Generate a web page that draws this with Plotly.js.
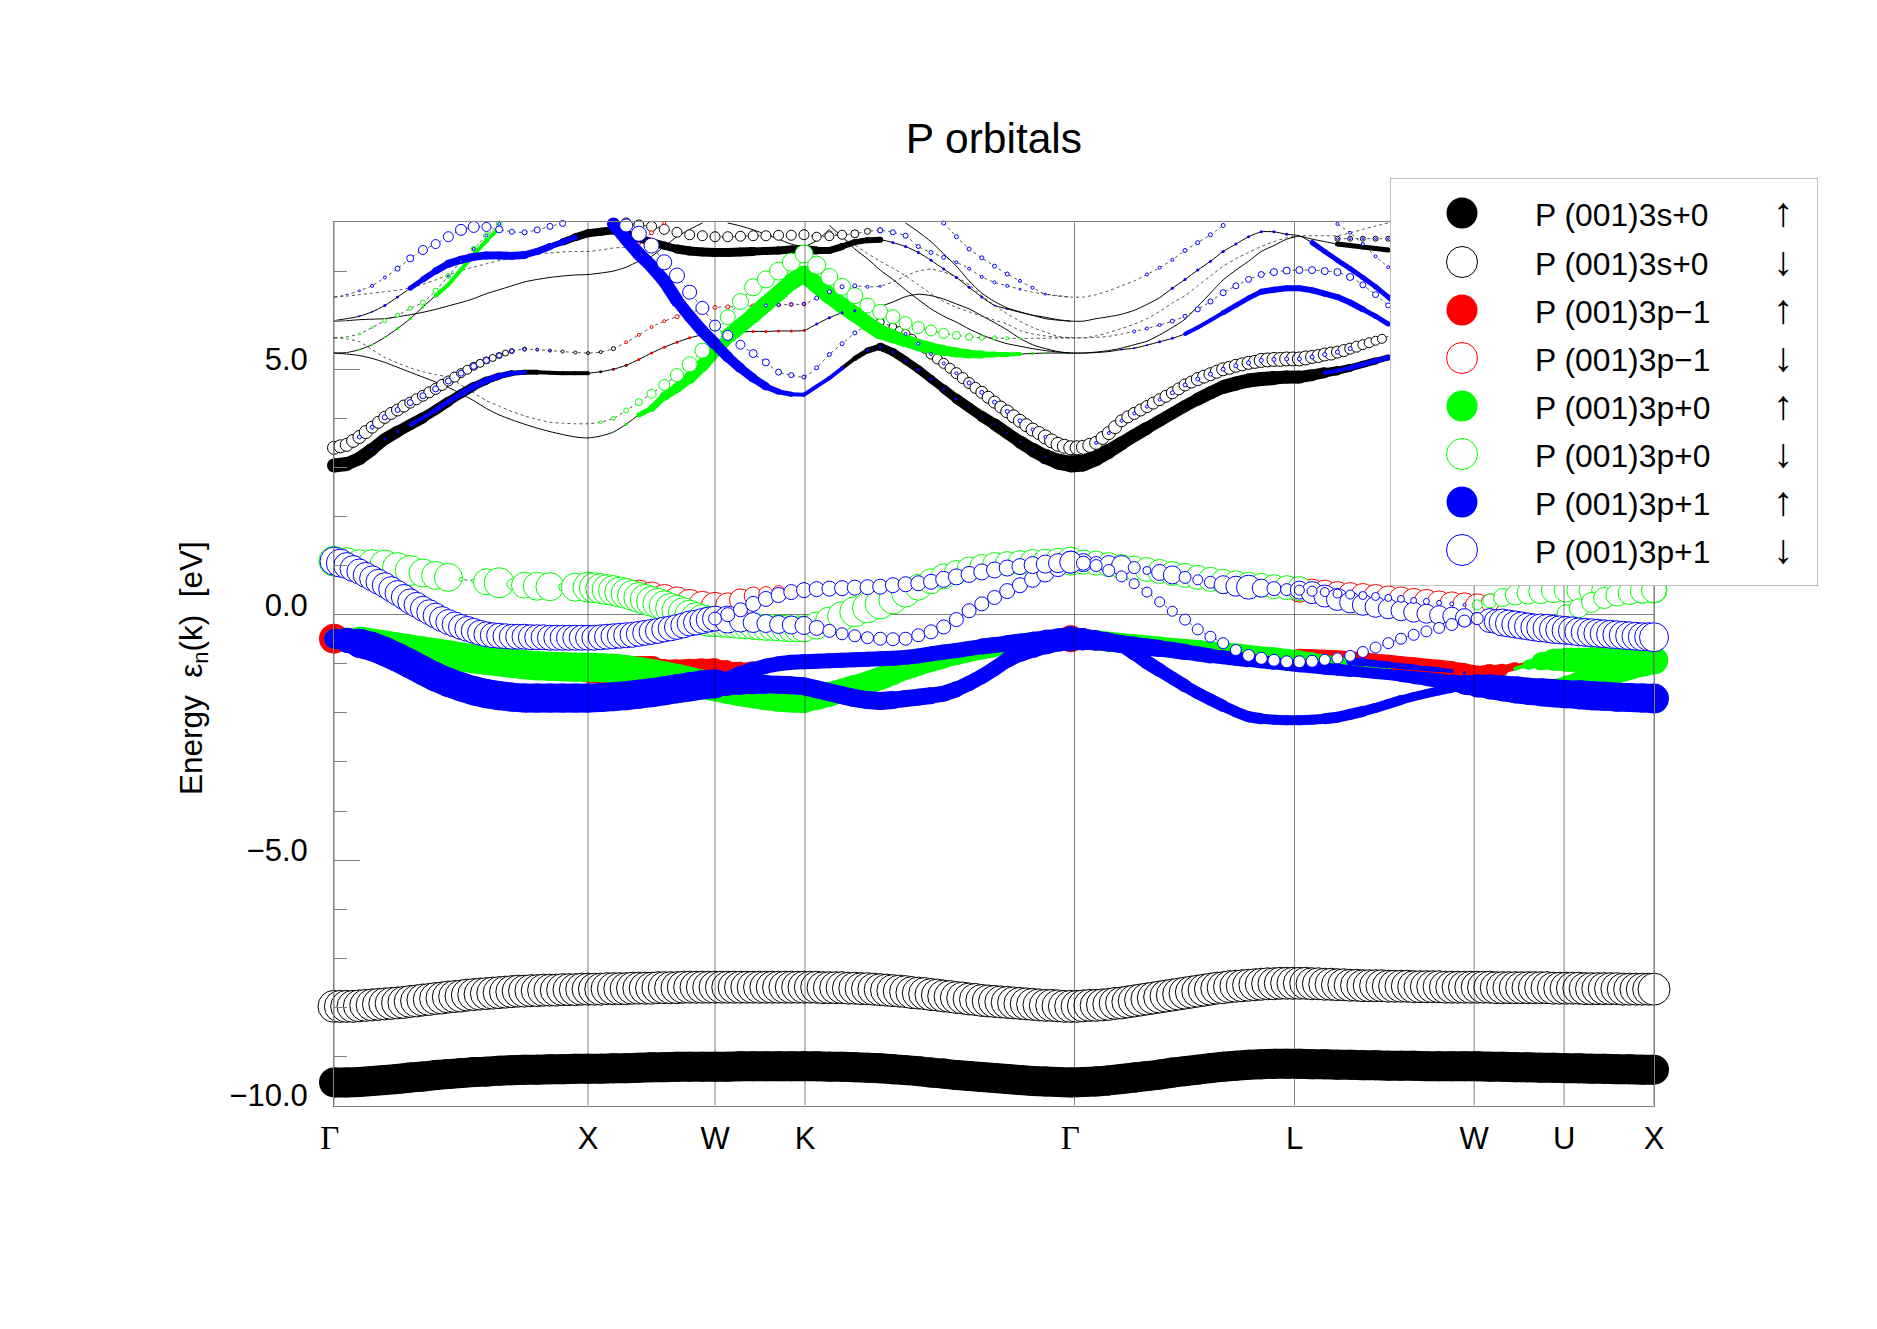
<!DOCTYPE html>
<html><head><meta charset="utf-8">
<script src="https://cdn.plot.ly/plotly-3.0.1.min.js"></script>
<style>html,body{margin:0;padding:0;background:#fff}</style></head><body><div id="chart"></div>
<script>
function seg(){var o=new Array(105).fill(null);for(var a=0;a<arguments.length;a+=2){var s=arguments[a],v=arguments[a+1];for(var i=0;i<v.length;i++)o[s+i]=v[i];}return o;}
function rep(n,v){return new Array(n).fill(v);}

const kGrid=[0,.05,.1,.15,.2,.25,.3,.35,.4,.45,.5,.55,.6,.65,.7,.75,.8,.85,.9,.95,1,1.05,1.1,1.15,1.2,1.25,1.3,1.35,1.4,1.45,1.5,1.55,1.6,1.65,1.7,1.75,1.8,1.85,1.9,1.95,2,2.05,2.1,2.15,2.2,2.25,2.3,2.35,2.4,2.45,2.5,2.55,2.6,2.65,2.7,2.75,2.8,2.85,2.9,2.95,3,3.05,3.1,3.15,3.2,3.25,3.3,3.35,3.4,3.45,3.5,3.55,3.6,3.65,3.7,3.75,3.8,3.85,3.9,3.95,4,4.05,4.1,4.15,4.2,4.25,4.3,4.35,4.4,4.45,4.5,4.55,4.6,4.65,4.7,4.75,4.8,4.85,4.9,4.95,5,5.05,5.1,5.15,5.196];
const kTicks=[0,1,1.5,1.854,2.915,3.781,4.488,4.842,5.196];
const kLabels=['Γ','X','W','K','Γ','L','W','U','X'];
const yRange=[-10,8];

// spin-up bands (eV)
const upS=[-9.53,-9.53,-9.52,-9.50,-9.48,-9.46,-9.43,-9.41,-9.38,-9.36,-9.34,-9.32,-9.31,-9.29,-9.28,-9.27,-9.27,-9.26,-9.26,-9.25,-9.25,-9.25,-9.24,-9.24,-9.23,-9.22,-9.22,-9.21,-9.21,-9.21,-9.21,-9.21,-9.2,-9.2,-9.2,-9.2,-9.2,-9.2,-9.2,-9.21,-9.21,-9.22,-9.23,-9.24,-9.26,-9.28,-9.3,-9.33,-9.35,-9.38,-9.4,-9.42,-9.44,-9.46,-9.48,-9.5,-9.51,-9.52,-9.53,-9.52,-9.51,-9.49,-9.46,-9.43,-9.4,-9.37,-9.33,-9.3,-9.27,-9.24,-9.21,-9.19,-9.17,-9.16,-9.15,-9.15,-9.15,-9.16,-9.16,-9.17,-9.17,-9.18,-9.18,-9.19,-9.19,-9.19,-9.2,-9.2,-9.2,-9.2,-9.2,-9.21,-9.21,-9.22,-9.22,-9.23,-9.23,-9.24,-9.24,-9.25,-9.25,-9.26,-9.26,-9.27,-9.27];
const upA=[-.49,-.52,-.58,-.65,-.75,-.87,-1,-1.14,-1.27,-1.38,-1.47,-1.55,-1.61,-1.65,-1.68,-1.7,-1.7,-1.7,-1.7,-1.7,-1.7,-1.69,-1.67,-1.65,-1.62,-1.59,-1.55,-1.51,-1.47,-1.43,-1.41,-1.41,-1.41,-1.42,-1.42,-1.43,-1.44,-1.46,-1.52,-1.58,-1.64,-1.7,-1.74,-1.76,-1.74,-1.71,-1.68,-1.65,-1.61,-1.52,-1.4,-1.26,-1.1,-.92,-.79,-.7,-.61,-.53,-.49,-.5,-.53,-.56,-.6,-.63,-.66,-.69,-.72,-.76,-.8,-.84,-.87,-.9,-.93,-.96,-.99,-1.02,-1.05,-1.07,-1.1,-1.12,-1.15,-1.17,-1.2,-1.22,-1.25,-1.28,-1.31,-1.35,-1.39,-1.43,-1.45,-1.47,-1.5,-1.53,-1.56,-1.58,-1.6,-1.62,-1.63,-1.65,-1.66,-1.68,-1.69,-1.7,-1.71];
const upB=seg(30,[-1.41,-1.33,-1.22,-1.12,-1.05,-1,-.97,-.96,-.95,-.94,-.93,-.92,-.91,-.9,-.89,-.87,-.84,-.8,-.76,-.73,-.69,-.65,-.62,-.59,-.56,-.53,-.51,-.5,-.49,-.5,-.52,-.55,-.6,-.78,-.97,-1.13,-1.29,-1.45,-1.6,-1.73,-1.86,-1.98,-2.08,-2.12,-2.14,-2.15,-2.15,-2.14,-2.12,-2.09,-2.03,-1.97,-1.9,-1.82,-1.74,-1.67,-1.61,-1.55,-1.5,-1.45,-1.41]);
const upC=[-.49,-.51,-.54,-.58,-.62,-.66,-.7,-.74,-.78,-.82,-.86,-.9,-.93,-.96,-.99,-1.02,-1.04,-1.05,-1.06,-1.07,-1.07,-1.08,-1.09,-1.12,-1.16,-1.2,-1.25,-1.3,-1.36,-1.42,-1.47,-1.52,-1.57,-1.61,-1.65,-1.68,-1.7,-1.71,-1.68,-1.62,-1.55,-1.47,-1.39,-1.3,-1.2,-1.1,-1.02,-.95,-.88,-.82,-.76,-.71,-.66,-.62,-.58,-.55,-.52,-.5,-.49,-.5,-.52,-.55,-.58,-.6,-.63,-.65,-.68,-.7,-.72,-.75,-.77,-.79,-.82,-.85,-.87,-.9,-.93,-.95,-.97,-.99,-1.01,-1.03,-1.05,-1.07,-1.08,-1.09,-1.1,-1.11,-1.12,-1.14,-1.15,-1.14,-1.12,-1.1,-1.02,-.95,-.92,-.92,-.92,-.92,-.92,-.92,-.93,-.93,-.93];
const upD=seg(96,[-1.5,-1.45,-1.38,-1.32,-1.22,-1.14,-1.06,-.99,-.93]);
const upR=seg(0,[-.49],20,[-1.1,-1.12,-1.14,-1.15,-1.15,-1.15,-1.15,-1.13,-1.1,-1.07,-1.05,-1.05,-1.04,-1],58,[-.49],76,[-.9,-.91,-.92,-.93,-.95,-.97,-1,-1.02,-1.05,-1.07,-1.1,-1.12,-1.15,-1.18,-1.22,-1.17,-1.12,-1.05,-1]);
const upCond=seg(0,[3.04,3.07,3.18,3.37,3.58,3.73,3.87,4.01,4.17,4.34,4.5,4.65,4.77,4.86,4.92,4.94,4.94,4.93,4.92,4.92,4.92,4.95,5,5.08,5.2,5.33,5.45,5.55,5.64,5.7,5.75,5.76,5.76,5.77,5.77,5.78,5.78,5.79,5.92,6.05,6.15,6.19,6.21,6.28,6.37,6.48,6.53,6.5,6.43,6.33,6.23,6.09,5.95,5.8,5.63,5.5,5.42,5.36,5.33,5.33,5.35,5.38,5.43,5.5,5.57,5.7,5.85,6.02,6.28,6.55,6.82,7.02,7.2,7.4,7.52,7.65,7.71,7.65,7.6,7.55,7.52,7.49,7.46,7.43]);
const upSteep=seg(22,[7.96,7.65,7.35,7.1,6.8,6.4,6.08,5.78,5.52,5.25,5.02,4.82,4.65,4.54,4.49,4.48,4.65,4.82,5.02,5.22,5.38,5.46,5.35,5.18,5,4.8,4.6,4.4,4.22,4.04,3.88,3.7,3.52,3.36,3.22,3.12,3.07,3.09,3.19,3.33,3.49,3.65,3.8,3.95,4.1,4.25,4.39,4.52,4.64,4.71,4.77,4.8,4.82,4.84,4.84,4.88,4.93,4.97,5.03,5.1,5.17,5.24]);
const upG=seg(0,[5.33,5.31,5.28,5.22,5.14,5.04,4.94,4.84,4.74,4.63,4.5,4.36,4.2,4.07,3.97,3.88,3.8,3.73,3.67,3.62,3.6,3.64,3.72,3.88,4.07,4.2,4.45,4.62,4.82,5.08,5.38,5.67,5.88,6.1,6.33,6.55,6.78,6.94,6.72,6.5,6.3,6.12,5.93,5.76,5.67,5.58,5.49,5.43,5.38,5.34,5.31,5.3,5.3,5.3,5.31,5.32,5.33,5.33,5.33,5.33,5.34,5.36,5.4,5.43,5.49,5.56,5.63,5.72,5.85,6,6.15,6.3,6.45,6.58,6.62,6.65,6.65,6.61,6.54,6.47,6.36,6.22,6.08,5.92]);
const upK=[5.99,6.03,6.08,6.17,6.3,6.47,6.65,6.83,7,7.15,7.23,7.29,7.32,7.32,7.31,7.33,7.4,7.5,7.59,7.69,7.77,7.8,7.83,7.76,7.67,7.59,7.52,7.45,7.41,7.39,7.38,7.38,7.39,7.4,7.41,7.42,7.44,7.45,7.42,7.42,7.5,7.59,7.63,7.64,7.58,7.5,7.38,7.22,7.04,6.87,6.67,6.47,6.3,6.23,6.16,6.1,6.06,6.01,5.98,5.98,6.03,6.07,6.12,6.2,6.32,6.46,6.65,6.83,7.02,7.2,7.4,7.55,7.7,7.8,7.8,7.75,7.72,7.58,7.4,7.22,7.05,6.87,6.68,6.47,6.25];
const upT2=seg(0,[5.33,5.34,5.4,5.5,5.65,5.83,6.03,6.27,6.5,6.72,7.03,7.33,7.62,7.88],39,[7.93,7.7,7.45,7.25,7.02,6.83,6.62,6.42,6.23,6.08,5.96,5.82,5.7,5.6,5.52,5.47,5.42,5.38,5.35,5.33]);
const upT1=seg(0,[5.98,5.99,6.01,6.02,6.03,6.07,6.11,6.16,6.22,6.29,6.36,6.44,6.54,6.62,6.7,6.78,6.83,6.87,6.9,6.92,6.93,6.96,7,7.08,7.2,7.3,7.5,7.7,7.85,7.98],31,[7.98,7.92,7.84,7.75,7.65,7.55,7.5,7.62,7.85],45,[7.98,7.8,7.6,7.35,7.1,6.8,6.55,6.38,6.25,6.17,6.1,6.03,6,5.98]);

// spin-down bands (eV)
const dnS=[-7.98,-7.98,-7.97,-7.95,-7.93,-7.91,-7.88,-7.85,-7.82,-7.79,-7.77,-7.74,-7.72,-7.7,-7.68,-7.67,-7.66,-7.65,-7.64,-7.64,-7.63,-7.63,-7.62,-7.62,-7.61,-7.61,-7.6,-7.6,-7.59,-7.59,-7.59,-7.59,-7.59,-7.59,-7.59,-7.59,-7.59,-7.59,-7.59,-7.6,-7.6,-7.61,-7.62,-7.64,-7.66,-7.68,-7.71,-7.74,-7.77,-7.8,-7.83,-7.86,-7.88,-7.9,-7.92,-7.94,-7.96,-7.97,-7.98,-7.97,-7.96,-7.94,-7.91,-7.87,-7.83,-7.79,-7.75,-7.71,-7.67,-7.63,-7.6,-7.57,-7.55,-7.53,-7.52,-7.51,-7.51,-7.52,-7.53,-7.54,-7.55,-7.56,-7.56,-7.57,-7.57,-7.58,-7.58,-7.58,-7.59,-7.59,-7.59,-7.59,-7.6,-7.6,-7.6,-7.6,-7.61,-7.61,-7.61,-7.62,-7.62,-7.62,-7.63,-7.63,-7.63];
const dnA=[1.09,1,.88,.74,.6,.44,.27,.12,-.02,-.15,-.25,-.33,-.4,-.43,-.45,-.45,-.46,-.47,-.47,-.47,-.47,-.46,-.44,-.42,-.39,-.35,-.3,-.25,-.18,-.13,-.08,-.1,-.13,-.16,-.18,-.2,-.21,-.22,-.27,-.33,-.39,-.43,-.47,-.49,-.5,-.49,-.42,-.35,-.25,-.1,.08,.22,.35,.48,.6,.72,.84,.96,1.07,1.06,1.04,1.02,1,.96,.9,.86,.81,.76,.71,.66,.61,.58,.56,.54,.53,.51,.5,.45,.38,.31,.25,.2,.16,.12,.08,.05,.02,-.01,-.03,-.06,-.08,-.12,-.16,-.2,-.24,-.27,-.3,-.32,-.35,-.37,-.39,-.41,-.43,-.45,-.46];
const dnB=seg(30,[-.08,0,.1,.22,.32,.4,.46,.5,.52,.53,.54,.55,.56,.57,.6,.62,.64,.67,.72,.77,.82,.87,.91,.95,.98,1.01,1.03,1.05,1.07,1.05,1,.9,.78,.63,.46,.26,.07,-.1,-.3,-.45,-.58,-.72,-.83,-.89,-.93,-.96,-.96,-.95,-.92,-.89,-.84,-.76,-.67,-.58,-.49,-.41,-.34,-.27,-.2,-.13,-.08]);
const dnC=seg(0,[1.09,1.08,1.06,1.04,1.01,.96,.9,.85,.8,.76,.72,.69,.67,.65,.62,.6,.58,.57,.56,.56,.56,.53,.49,.43,.35,.27,.18,.09,-.01,-.1,-.18,-.2,-.22,-.24,-.26,-.27,-.29,-.29,-.22,-.13,-.03,.06,.14,.22,.3,.44,.56,.68,.78,.86,.93,.98,1.02,1.04,1.06,1.07,1.08,1.09,1.09,1.07,1.05,1.02,.98,.95,.92,.88,.84,.8,.76,.72,.68,.65,.62,.6,.57,.55,.53],90,[.2,.28,.35,.4,.44,.47,.49,.5,.5,.5,.5,.5,.5,.5,.5]);
const dnD=seg(97,[.02,.13,.25,.34,.4,.44,.48,.5]);
const dnR=seg(21,[.52,.48,.45,.42,.38,.33,.28,.23,.19,.17,.2,.3,.38,.43,.47,.49,.5],76,[.5,.48,.46,.43,.41,.39,.37,.34,.32,.29,.27,.24,.22,.2,.18,.24,.34,.44,.48]);
const dnCond=seg(0,[3.4,3.46,3.62,3.82,4.02,4.17,4.32,4.46,4.6,4.76,4.92,5.06,5.18,5.28,5.37,5.41,5.4,5.38,5.36,5.34,5.33,5.35,5.42,5.55,5.7,5.86,5.98,6.07,6.16,6.22,6.26,6.27,6.28,6.29,6.3,6.31,6.32,6.33,6.45,6.58,6.68,6.7,6.68,6.69,6.78,6.9,7,7.04,6.98,6.88,6.72,6.5,6.3,6.13,5.98,5.85,5.76,5.67,5.64,5.64,5.68,5.75,5.83,5.92,6.03,6.18,6.35,6.5,6.7,6.9,7.1,7.25,7.38,7.5,7.6,7.68,7.72,7.72,7.72,7.72,7.78,7.85,7.92,7.98]);
const dnSteep=seg(23,[7.93,7.76,7.52,7.18,6.91,6.57,6.25,5.89,5.69,5.5,5.32,5.14,4.94,4.88,4.84,5.03,5.3,5.52,5.74,5.9,5.96,5.86,5.72,5.52,5.31,5.12,4.92,4.72,4.53,4.33,4.14,3.95,3.77,3.62,3.47,3.4,3.41,3.5,3.7,3.95,4.1,4.24,4.38,4.52,4.68,4.8,4.9,5,5.07,5.13,5.18,5.2,5.21,5.21,5.25,5.3,5.35,5.42,5.5,5.58,5.67]);
const dnG=seg(0,[5.64,5.62,5.56,5.4,5.24,5.13,5.03,4.95,4.89,4.84,4.68,4.52,4.36,4.25,4.14,4.05,3.98,3.92,3.9,3.89,3.89,3.92,4,4.16,4.33,4.5,4.68,4.88,5.1,5.38,5.7,6.06,6.38,6.67,6.83,7,7.18,7.35,7.12,6.88,6.68,6.5,6.3,6.17,6.07,5.94,5.85,5.79,5.73,5.69,5.66,5.64,5.64,5.63,5.63,5.63,5.63,5.64,5.64,5.64,5.65,5.67,5.72,5.77,5.83,5.9,5.98,6.08,6.22,6.38,6.56,6.7,6.83,6.93,6.98,7.01,7.02,7.02,7,6.98,6.88,6.72,6.52,6.3]);
const dnL=seg(0,[5.64,5.66,5.72,5.85,5.99,6.1,6.24,6.36,6.6,6.9,7.2,7.45,7.72,7.96],39,[7.83,7.68,7.53,7.36,7.2,7.06,6.9,6.72,6.54,6.38,6.26,6.17,6.08,6,5.92,5.79,5.72,5.68,5.65,5.64],79,[7.66,7.66,7.66,7.66,7.66]);
const dnU=seg(0,[6.47,6.52,6.6,6.7,6.87,7.05,7.26,7.43,7.55,7.7,7.84,7.9,7.9,7.85,7.8,7.79,7.84,7.91,7.97],48,[7.98,7.7,7.45,7.27,7.1,6.94,6.8,6.66,6.53,6.49,6.47,6.47,6.52,6.6,6.7,6.8,6.93,7.07,7.23,7.42,7.58,7.74,7.93],79,[7.96,7.78,7.55,7.3,7.08]);
const dnT3=seg(0,[6.47,6.49,6.52,6.55,6.58,6.61,6.66,6.73,6.82,6.92,7.01,7.08,7.15,7.21,7.27,7.32,7.35,7.37,7.39,7.4,7.4,7.43,7.47,7.49,7.55,7.78,7.98]);
const dnTop=seg(23,[7.98,7.94,7.91,7.85,7.79,7.74,7.72,7.7,7.7,7.71,7.72,7.72,7.73,7.73,7.74,7.7,7.71,7.74,7.76,7.81,7.83,7.79,7.72,7.5,7.38,7.28,7.18,7.05,6.88,6.77,6.7,6.63,6.57,6.53,6.5,6.47]);

// extra readings taken half a step further along k, for the densely overlapping ring bands
const kHalfStep=0.025;
const dnSHalf=[-7.98,-7.98,-7.96,-7.94,-7.92,-7.9,-7.87,-7.84,-7.81,-7.78,-7.75,-7.73,-7.71,-7.69,-7.67,-7.66,-7.65,-7.65,-7.64,-7.63,-7.63,-7.62,-7.62,-7.61,-7.61,-7.6,-7.6,-7.59,-7.59,-7.59,-7.59,-7.59,-7.59,-7.59,-7.59,-7.59,-7.59,-7.59,-7.6,-7.6,-7.61,-7.62,-7.63,-7.65,-7.67,-7.7,-7.72,-7.75,-7.78,-7.81,-7.84,-7.87,-7.89,-7.91,-7.93,-7.95,-7.96,-7.98,-7.98,-7.96,-7.95,-7.92,-7.89,-7.85,-7.81,-7.77,-7.73,-7.69,-7.65,-7.61,-7.58,-7.56,-7.54,-7.52,-7.51,-7.51,-7.51,-7.52,-7.53,-7.54,-7.55,-7.56,-7.56,-7.57,-7.57,-7.58,-7.58,-7.59,-7.59,-7.59,-7.59,-7.6,-7.6,-7.6,-7.6,-7.6,-7.61,-7.61,-7.62,-7.62,-7.62,-7.63,-7.63,-7.63];
const dnAHalf=seg(0,[1.05,.94,.81,.67,.52,.36,.2,.05,-.09,-.2,-.29,-.37,-.42,-.44,-.45,-.46,-.46,-.47,-.47,-.47,-.47,-.45,-.43,-.41,-.37,-.33,-.28,-.22,-.16,-.1],91,[-.14,-.18,-.22,-.26,-.28,-.31,-.33,-.36,-.38,-.4,-.42,-.44,-.45]);
const dnCHalf=seg(20,[.55,.51,.46,.39,.31,.23,.13,.04,-.06,-.14,-.19,-.21,-.23,-.25,-.26,-.28,-.29]);
const dnCondHalf=seg(0,[3.43,3.54,3.72,3.92,4.1,4.25,4.39,4.53,4.68,4.84,4.99,5.12,5.23,5.33]);
const dnSteepHalf=seg(44,[5.79,5.62,5.42,5.21,5.02,4.82,4.62,4.43,4.23,4.04,3.86,3.7,3.54,3.43,3.4,3.45,3.6,3.82,4.03,4.17,4.31,4.45,4.6,4.74,4.85,4.95,5.03,5.1,5.15,5.19,5.2,5.21,5.23,5.27,5.32,5.38,5.46,5.54,5.62]);

// marker diameters, per band and orbital
const szUpA=[20,25].concat(rep(29,29),[24,22,20,19,18,18,18,18,18,18,18,18,18,18,17,17,17,16,16,15,15,15,16,17,18,20,22,24,22,20,19,18,18,17,17,16,16,15,15,14,14,14,13,13,12,12,12,12,12,12,11,11,11,12,13,14,15,17,20,23,25,26,27,27,28,28,28,29,29,29,29,29,29,30]);
const szUpB=seg(30,[20,18,17,16,15,15,15,15,15,15,15,15,15,15,15,15,15,15,15,15,15,16,16,17,17,18,20,22,25,22,20,18,16,15,14,14,13,13,12,12,12,11,11,11,10,10,10,10,11,11,11,11,10,10,10,9,9,9,9,8,8]);
const szUpC=[20,24].concat(rep(36,29),[26,25,24,24,23,23,23,22,22,21,21,20,20,20,20,19,19,19,18,18,18],rep(18,20),[18,16,14,12,10,8,6],rep(9,0),[4,10,18,22,24,24,25,25,26,26,27,28]);
const szUpD=seg(96,[18,20,22,24,25,26,26,27,28]);
const szUpRed=seg(0,[30],20,[28,28,30,30,30,30,24,22,20,18,16,12,8,5],58,[27],76,[20,20,20,20,20,20,20,20,20,20,20,20,20,19,18,16,12,8,4]);
const szUpRedBlue=seg(80,[8,8,7,7,6,6,5,5,4,3]);
const szCondBlack=seg(0,[14,14,13,13,12,12,11,11,10,10,9,9,8,7,6,5,5,4,4,4,4,3,3,3],79,[5,5,5,5,5]);
const szCondRed=seg(22,[2,2,3,3,3,3,3,3,3,3,4,3,3,3,3,3]);
const szCondBlue=seg(3,[2,3,3,4,4,5,5,6,6,6,6,5,4],38,[3,3,3,3]);
const szSteepBlue=seg(22,[13,13,13,13,13,13,12,12,12,11,10,9,8,6,5,4,4,4,4],42,[3,3,3,3,3,3,3,3,2,2,2,2,2,2,2],78,[4,4,5,5,5,5]);
const szSteepBlack=seg(40,[4,5,6,8,8,8,8,8,9,10,10,11,12,12,13,14,15,16,17,17,16,15,14,13,13,12,12,12,13,13,14,14,14,14,14,13,13,12,11,9,8,7,7,6]);
const szGGreen=seg(22,[2,3,5,7,9,10,12,13,14,15,15,16,16,16,17,17,17,17,16,16,15,15,14,13,12,12,11,10,9,8,6,5,4,3,2,1,1]);
const szGBlue=seg(62,[2,2,2,3,3,4,4,4,5,5,5,6,6,6,6,6,6,6,6,6,5,5]);
const szKBlue=seg(2,[2,2,3,3,5,6,7,8,8,8,8,8,8,8,7,7,6,5],44,[3,3,3,3,3,3,3,3,2,2],66,[3,3,3,3,3,3,3,3,3,3],77,[5,5,5,5,5,5,5,5]);
const szKBlack=seg(18,[7,8,8,8,8,8,8,8,8,9,9,9,9,9,9,9,8,8,8,8,8,7,7,6,6,6]);
const szT2Green=seg(1,[1,2,2,2,3,3,3,4,4,4,4,5,4]);
const szDnA=[28,26].concat(rep(29,25),[27,22,20,18,18,18,18,15,13,12,12,12,13,13,13,13,14,14,14,14,14,14,15,15,16,17,18,22,18,14,18,20,12,8,16,18,12,10,12,18,20,24,18,14,12,18,22,22,22,21,21,21,20,20,20,19,19,18,18,12,24,27,27,27,28,28,28,28,28,28,28,28,28,29,30]).slice(0,105);
const szDnB=seg(30,[13,14,14,15,15,15,15,15,15,15,15,15,15,15,15,15,15,15,16,16,16,16,16,16,16,17,18,19,22,14,12,12,11,10,10,10,10,11,11,11,11,11,12,12,12,12,12,12,11,11,11,11,11,11,11,11,11,11,12,12,12]);
const szDnC=seg(0,[30,28,26,28,30,30,30,28,28,28,4,4,26,30,10,26,28,28,8,28,30,30,30,30,30,30,30,30,30,30,26,26,26,26,26,26,26,26,27,28,29,30,30,30,28,28,26,25,25,24,24,24,24,24,24,25,25,26,28,24,24,24,24,24,24,24,24,24,24,24,24,24,24,24,24,24,24],90,[10,14,18,20,22,24,24,24,24,25,25,26,26,26,26]);
const szDnD=seg(97,[18,19,20,21,22,23,24,25]);
const szDnRed=seg(21,[28,28,28,28,28,28,28,28,28,28,24,22,18,14,12,8,6],76,[24,24,24,24,24,24,24,24,24,24,24,24,24,24,24,18,12,8,5]);
const szDnRedBlue=seg(76,[10,10,9,9,9,8,8,7,7,6,6,5,4,3]);
const szCondDnBlack=seg(0,[13,13,13,12,12,12,11,11,11,10,9,8,7,6,5,4,3,3,3,3,3,3,4]);
const szCondDnBlue=seg(2,[4,4,5,5,6,6,6,6,6,6,6,5,4,3,2,2],34,[3,3,3,3,4,4,4,4,3,2]);
const szCondDnRed=seg(23,[3,3,3,3,4,4,4,4,4,4,4,4,4,4,4]);
const szSteepDnBlue=seg(23,[13,15,15,15,15,14,13,11,10,9,8,7,6,5,4,4,4,4,4],45,[3,3,3,3,3,4,4,4,4,4,3,3],60,[3,3,3,3,3,3,4,4,4,4,4,4,4,4,4,4,4,4,4,4,4]);
const szSteepDnBlack=seg(42,[8,8,8,9,9,10,10,11,11,12,12,13,13,13,14,14,14,14,13,13,12,12,12,12,12,12,13,13,13,13,13,14,14,14,14,13,13,12,11,10,9]);
const szGDnGreen=seg(21,[3,4,5,7,9,11,13,15,15,14,15,16,17,17,18,18,18,18,17,17,16,15,15,14,13,12,11,10,8,7,5,4,3,2]);
const szGDnBlue=seg(63,[3,3,3,4,4,5,5,6,6,6,6,7,7,7,7,7,7,7,6,6,5]);
const szLGreen=seg(1,[1,2,2,4,4,4,5,5,5,5,5,6,6]);
const szLBlue=seg(9,[2,2,3,3,3],79,[2,2,2,2,2]);
const szLBlack=seg(79,[5,5,5,5,5]);
const szUBlue=seg(1,[1,2,3,3,5,7,9,9,10,11,11,9,7,5,5,6,6,6],48,[4,4,4,4,4,4,3,3,2],64,[3,3,3,4,4,4,4],79,[3,3,3,3,3]);
const szT3Red=seg(24,[3,4,3]);
const szTopBlack=seg(23,rep(15,10).concat([9,9,9,8,6,5]));
const szTopBlue=seg(43,[5,5,5,4,4,4,3,3,3,3,3,2]);

const legendNames=['P (001)3s+0','P (001)3s+0','P (001)3p−1','P (001)3p−1','P (001)3p+0','P (001)3p+0','P (001)3p+1','P (001)3p+1'];
const legendArrows=['↑','↓','↑','↓','↑','↓','↑','↓'];
const legendRows=[35,84,132,180,228,276,324,372];
const colors=['#000000','#000000','#ff0000','#ff0000','#00ff00','#00ff00','#0000ff','#0000ff'];
const ringColors=['#000000','#000000','#ff0000','#ff0000','#00ff00','#00ff00','#0000ff','#0000ff'];

const lineBands=[[upS,0],[upA,0],[upB,0],[upC,0],[upCond,0],[upSteep,0],[upG,0],[upK,0],[upT2,0],[upT1,0],[dnS,1],[dnA,1],[dnB,1],[dnC,1],[dnCond,1],[dnSteep,1],[dnG,1],[dnL,1],[dnU,1],[dnT3,1],[dnTop,1]];
// [band, size, legend index, optional half-step readings] drawn in orbital order
const markerLayers=[
 [upS,30,0],[upCond,szCondBlack,0],[upSteep,szSteepBlack,0],[upK,szKBlack,0],
 [dnS,32,1,dnSHalf],[dnCond,szCondDnBlack,1,dnCondHalf],[dnSteep,szSteepDnBlack,1,dnSteepHalf],[dnTop,szTopBlack,1],[dnL,szLBlack,1],
 [upR,szUpRed,2],[upCond,szCondRed,2],
 [dnR,szDnRed,3],[dnCond,szCondDnRed,3],[dnT3,szT3Red,3],
 [upC,szUpC,4],[upD,szUpD,4],[upG,szGGreen,4],[upT2,szT2Green,4],
 [dnC,szDnC,5,dnCHalf],[dnD,szDnD,5],[dnG,szGDnGreen,5],[dnL,szLGreen,5],
 [upA,szUpA,6],[upB,szUpB,6],[upR,szUpRedBlue,6],[upCond,szCondBlue,6],[upSteep,szSteepBlue,6],[upG,szGBlue,6],[upK,szKBlue,6],
 [dnA,szDnA,7,dnAHalf],[dnB,szDnB,7],[dnR,szDnRedBlue,7],[dnCond,szCondDnBlue,7],[dnSteep,szSteepDnBlue,7],[dnG,szGDnBlue,7],[dnL,szLBlue,7],[dnU,szUBlue,7],[dnTop,szTopBlue,7]
];

var traces=[];
lineBands.forEach(function(b){
  traces.push({type:'scatter',mode:'lines',x:kGrid,y:b[0],hoverinfo:'skip',cliponaxis:false,showlegend:false,
    line:b[1]?{color:'rgba(40,40,40,0.8)',width:1,dash:'3px,3px',shape:'spline',smoothing:0.6}:{color:'#000',width:1,shape:'spline',smoothing:0.6}});
});
function sizeAt(m,i){return Array.isArray(m[1])?m[1][i]:m[1];}
markerLayers.forEach(function(m){
  var open=m[2]%2===1, pts=[];
  kGrid.forEach(function(k,i){
    var sz=sizeAt(m,i);
    if(m[0][i]!==null&&m[0][i]!==undefined&&sz)pts.push([k,m[0][i],sz]);
    if(m[3]&&m[3][i]!==null&&m[3][i]!==undefined&&sz)pts.push([k+kHalfStep,m[3][i],sz]);
  });
  if(!open){
    // solid ribbons: join neighbouring filled points with a stroke as wide as the smaller dot
    var byW={};
    for(var i=0;i<kGrid.length-1;i++){
      var a=m[0][i],b=m[0][i+1],sa=sizeAt(m,i),sb=sizeAt(m,i+1);
      if(a===null||b===null||a===undefined||b===undefined||!sa||!sb)continue;
      var w=Math.round(Math.min(sa,sb));
      if(w<4)continue;
      if(!byW[w])byW[w]={x:[],y:[]};
      byW[w].x.push(kGrid[i],kGrid[i+1],null);byW[w].y.push(a,b,null);
    }
    Object.keys(byW).forEach(function(w){
      traces.push({type:'scatter',mode:'lines',x:byW[w].x,y:byW[w].y,hoverinfo:'skip',cliponaxis:false,showlegend:false,
        line:{color:colors[m[2]],width:+w}});
    });
  }
  traces.push({type:'scatter',mode:'markers',x:pts.map(function(p){return p[0];}),y:pts.map(function(p){return p[1];}),name:legendNames[m[2]],hoverinfo:'skip',cliponaxis:false,showlegend:false,
    marker:{size:pts.map(function(p){return p[2];}),opacity:1,color:open?'#ffffff':colors[m[2]],line:{width:open?1:0,color:ringColors[m[2]]}}});
});
// high-symmetry verticals
var vx=[],vy=[];
kTicks.forEach(function(k){vx.push(k,k,null);vy.push(yRange[0],yRange[1],null);});
traces.push({type:'scatter',mode:'lines',x:vx,y:vy,hoverinfo:'skip',showlegend:false,line:{color:'rgba(0,0,0,0.5)',width:1}});
// legend panel on its own small axes
traces.push({type:'scatter',mode:'lines',xaxis:'x2',yaxis:'y2',x:[0,428,428,0,0],y:[0,0,408,408,0],fill:'toself',fillcolor:'#fff',cliponaxis:false,hoverinfo:'skip',showlegend:false,line:{color:'#808080',width:1}});
legendRows.forEach(function(r,i){
  traces.push({type:'scatter',mode:'markers',xaxis:'x2',yaxis:'y2',x:[72],y:[r],name:legendNames[i],hoverinfo:'skip',showlegend:false,
    marker:{size:31,opacity:1,color:i%2?'#fff':colors[i],line:{width:i%2?1:0,color:ringColors[i]}}});
});
var ann=[];
legendRows.forEach(function(r,i){
  ann.push({xref:'x2',yref:'y2',x:143,y:r+2,xanchor:'left',yanchor:'middle',showarrow:false,text:legendNames[i],font:{family:'Liberation Sans',size:31.8,color:'#000'}});
  ann.push({xref:'x2',yref:'y2',x:393,y:r-1,xanchor:'center',yanchor:'middle',showarrow:false,text:legendArrows[i],font:{family:'Liberation Sans',size:41,color:'#000'}});
});
var frame='#808080';
var layout={width:1877,height:1329,margin:{l:0,r:0,t:0,b:0,pad:0},paper_bgcolor:'#fff',plot_bgcolor:'#fff',showlegend:false,
 font:{family:'Liberation Sans',color:'#000',size:31},
 title:{text:'P orbitals',x:0.5295,xanchor:'center',xref:'paper',y:1-138/1329,yref:'paper',yanchor:'middle',font:{family:'Liberation Sans',size:42.5,color:'#000'}},
 xaxis:{domain:[334/1877,1654/1877],range:[0,5.196],tickmode:'array',tickvals:kTicks,
  ticktext:kLabels.map(function(t){return t==='Γ'?'<span style="font-family:\'Liberation Serif\';font-size:33px">Γ&#160;</span>':t;}),
  ticks:'',ticklabelstandoff:5,showgrid:false,zeroline:false,showline:true,linecolor:frame,linewidth:1,mirror:true,tickfont:{family:'Liberation Sans',size:31},tickangle:0},
 yaxis:{domain:[1-1105.5/1329,1-222/1329],range:yRange,tick0:0,dtick:5,tickformat:'.1f',ticks:'inside',ticklen:26,tickcolor:frame,tickwidth:1,
  minor:{dtick:1,ticks:'inside',ticklen:13,tickcolor:frame,tickwidth:1,showgrid:false},
  ticklabelstandoff:19,ticklabelshift:-10,showgrid:false,zeroline:true,zerolinecolor:frame,zerolinewidth:1,showline:true,linecolor:frame,linewidth:1,mirror:true,tickfont:{family:'Liberation Sans',size:31},
  title:{text:'Energy  ε<sub>n</sub>(k)  [eV]&#160;',standoff:17,font:{family:'Liberation Sans',size:31.5}}},
 xaxis2:{domain:[1390/1877,1818/1877],range:[0,428],visible:false,anchor:'y2',fixedrange:true},
 yaxis2:{domain:[1-586/1329,1-178/1329],range:[408,0],visible:false,anchor:'x2',fixedrange:true},
 annotations:ann};
Plotly.newPlot('chart',traces,layout,{staticPlot:true,displayModeBar:false});
</script></body></html>
